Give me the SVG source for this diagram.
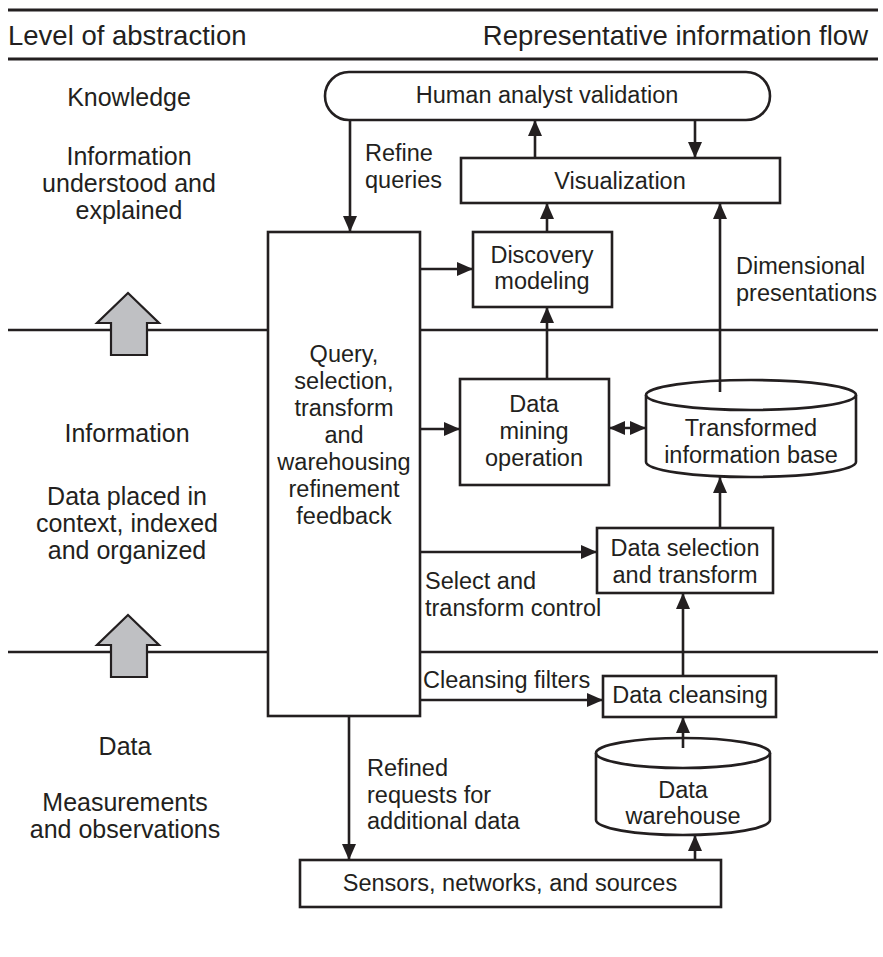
<svg xmlns="http://www.w3.org/2000/svg" width="883" height="957" viewBox="0 0 883 957">
  <style>
    text { font-family: "Liberation Sans", Arial, Helvetica, sans-serif; fill: #231f20; }
    .hdr { font-size: 27.5px; }
    .t { font-size: 23.5px; }
    .lv { font-size: 25px; text-anchor: middle; }
    .c { text-anchor: middle; }
    .rule { stroke: #231f20; stroke-width: 3; fill: none; }
    .lvl { stroke: #231f20; stroke-width: 2.6; fill: none; }
    .box { stroke: #231f20; stroke-width: 2.6; fill: #ffffff; }
    .edge { stroke: #231f20; stroke-width: 2.6; fill: none; }
    .up { fill: #bfc0c3; stroke: #231f20; stroke-width: 2.2; stroke-linejoin: miter; }
  </style>
  <defs>
    <marker id="head" markerUnits="userSpaceOnUse" markerWidth="16" markerHeight="14" refX="16" refY="7" orient="auto">
      <path d="M0,0 L16,7 L0,14 Z" fill="#231f20"/>
    </marker>
    <marker id="tail" markerUnits="userSpaceOnUse" markerWidth="16" markerHeight="14" refX="0" refY="7" orient="auto">
      <path d="M16,0 L0,7 L16,14 Z" fill="#231f20"/>
    </marker>
  </defs>

  <!-- header rules and column titles -->
  <g id="header">
    <line class="rule" x1="8" y1="10" x2="878" y2="10"/>
    <line class="rule" x1="8" y1="59" x2="878" y2="59"/>
    <text class="hdr" x="8" y="45">Level of abstraction</text>
    <text class="hdr" x="868" y="45" text-anchor="end">Representative information flow</text>
  </g>

  <!-- level boundaries -->
  <g id="levels">
    <line class="lvl" x1="8" y1="330" x2="878" y2="330"/>
    <line class="lvl" x1="8" y1="652" x2="878" y2="652"/>
  </g>

  <!-- level descriptions -->
  <g id="level-knowledge">
    <text class="lv" x="129" y="106">Knowledge</text>
    <text class="lv" x="129" y="165">Information</text>
    <text class="lv" x="129" y="192">understood and</text>
    <text class="lv" x="129" y="219">explained</text>
  </g>
  <g id="level-information">
    <text class="lv" x="127" y="442">Information</text>
    <text class="lv" x="127" y="505">Data placed in</text>
    <text class="lv" x="127" y="532">context, indexed</text>
    <text class="lv" x="127" y="559">and organized</text>
  </g>
  <g id="level-data">
    <text class="lv" x="125" y="755">Data</text>
    <text class="lv" x="125" y="811">Measurements</text>
    <text class="lv" x="125" y="838">and observations</text>
  </g>

  <!-- upward abstraction arrows -->
  <g id="abstraction-arrows">
    <path class="up" d="M128,293 L159,323 L147,323 L147,355 L111,355 L111,323 L97,323 Z"/>
    <path class="up" d="M128,615 L159,645 L147,645 L147,677 L111,677 L111,645 L97,645 Z"/>
  </g>

  <!-- connectors -->
  <g id="connectors">
    <line class="edge" x1="350" y1="120" x2="350" y2="232" marker-end="url(#head)"/>
    <line class="edge" x1="535" y1="158" x2="535" y2="120" marker-end="url(#head)"/>
    <line class="edge" x1="695" y1="120" x2="695" y2="158" marker-end="url(#head)"/>
    <line class="edge" x1="547" y1="232" x2="547" y2="203" marker-end="url(#head)"/>
    <line class="edge" x1="420" y1="269" x2="473" y2="269" marker-end="url(#head)"/>
    <line class="edge" x1="547" y1="379" x2="547" y2="307" marker-end="url(#head)"/>
    <line class="edge" x1="420" y1="429" x2="460" y2="429" marker-end="url(#head)"/>
    <line class="edge" x1="609" y1="428" x2="646" y2="428" marker-start="url(#tail)" marker-end="url(#head)"/>
    <line class="edge" x1="720" y1="392" x2="720" y2="203" marker-end="url(#head)"/>
    <line class="edge" x1="420" y1="552" x2="597" y2="552" marker-end="url(#head)"/>
    <line class="edge" x1="720" y1="528" x2="720" y2="477" marker-end="url(#head)"/>
    <line class="edge" x1="683" y1="676" x2="683" y2="593" marker-end="url(#head)"/>
    <line class="edge" x1="420" y1="700" x2="603" y2="700" marker-end="url(#head)"/>
    <line class="edge" x1="683" y1="748" x2="683" y2="717" marker-end="url(#head)"/>
    <line class="edge" x1="349" y1="716" x2="349" y2="860" marker-end="url(#head)"/>
    <line class="edge" x1="695" y1="860" x2="695" y2="835" marker-end="url(#head)"/>
  </g>

  <!-- connector labels -->
  <g id="edge-labels">
    <text class="t" x="365" y="161">Refine</text>
    <text class="t" x="365" y="188">queries</text>
    <text class="t" x="736" y="274">Dimensional</text>
    <text class="t" x="736" y="301">presentations</text>
    <text class="t" x="425" y="589">Select and</text>
    <text class="t" x="425" y="616">transform control</text>
    <text class="t" x="423" y="688">Cleansing filters</text>
    <text class="t" x="367" y="776">Refined</text>
    <text class="t" x="367" y="803">requests for</text>
    <text class="t" x="367" y="829">additional data</text>
  </g>

  <!-- nodes -->
  <g id="human-analyst">
    <rect class="box" x="325" y="72" width="445" height="48" rx="24" ry="24"/>
    <text class="t c" x="547" y="103">Human analyst validation</text>
  </g>
  <g id="visualization">
    <rect class="box" x="461" y="158" width="319" height="45"/>
    <text class="t c" x="620" y="189">Visualization</text>
  </g>
  <g id="query-refinement">
    <rect class="box" x="268" y="232" width="152" height="484"/>
    <text class="t c" x="344" y="362">Query,</text>
    <text class="t c" x="344" y="389">selection,</text>
    <text class="t c" x="344" y="416">transform</text>
    <text class="t c" x="344" y="443">and</text>
    <text class="t c" x="344" y="470">warehousing</text>
    <text class="t c" x="344" y="497">refinement</text>
    <text class="t c" x="344" y="524">feedback</text>
  </g>
  <g id="discovery-modeling">
    <rect class="box" x="473" y="232" width="139" height="75"/>
    <text class="t c" x="542" y="263">Discovery</text>
    <text class="t c" x="542" y="289">modeling</text>
  </g>
  <g id="data-mining">
    <rect class="box" x="460" y="379" width="149" height="106"/>
    <text class="t c" x="534" y="412">Data</text>
    <text class="t c" x="534" y="439">mining</text>
    <text class="t c" x="534" y="466">operation</text>
  </g>
  <g id="transformed-base">
    <path class="box" d="M646,395 A105,15 0 0 1 856,395 V462 A105,15 0 0 1 646,462 Z"/>
    <path class="edge" d="M646,395 A105,15 0 0 0 856,395"/>
    <text class="t c" x="751" y="436">Transformed</text>
    <text class="t c" x="751" y="463">information base</text>
  </g>
  <g id="data-selection">
    <rect class="box" x="597" y="528" width="176" height="65"/>
    <text class="t c" x="685" y="556">Data selection</text>
    <text class="t c" x="685" y="583">and transform</text>
  </g>
  <g id="data-cleansing">
    <rect class="box" x="603" y="676" width="173" height="41"/>
    <text class="t c" x="690" y="703">Data cleansing</text>
  </g>
  <g id="data-warehouse">
    <path class="box" d="M596,753 A87,15 0 0 1 770,753 V820 A87,15 0 0 1 596,820 Z"/>
    <path class="edge" d="M596,753 A87,15 0 0 0 770,753"/>
    <text class="t c" x="683" y="798">Data</text>
    <text class="t c" x="683" y="824">warehouse</text>
  </g>
  <g id="sensors">
    <rect class="box" x="300" y="860" width="421" height="47"/>
    <text class="t c" x="510" y="891">Sensors, networks, and sources</text>
  </g>

  <!-- connector ends that sit on top of cylinder lids -->
  <g id="lid-stubs">
    <line class="edge" x1="720" y1="392" x2="720" y2="380"/>
    <line class="edge" x1="683" y1="748" x2="683" y2="738"/>
  </g>
</svg>
